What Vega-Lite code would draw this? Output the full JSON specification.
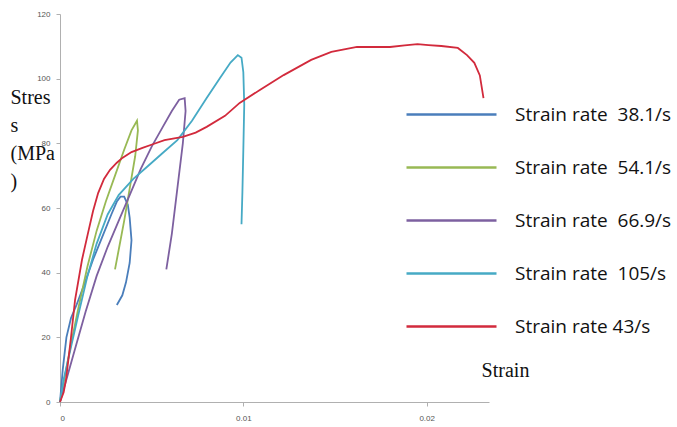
{
  "$schema": "https://vega.github.io/schema/vega-lite/v6.json",
  "autosize": "none",
  "width": 429,
  "height": 388,
  "padding": {"left": 60, "top": 14, "right": 188, "bottom": 25},
  "background": "white",
  "config": {"view": {"stroke": null}},
  "data": {"values": [
    {"s":"Strain rate\u00a0 38.1/s","i":0,"x":0,"y":0},
    {"s":"Strain rate\u00a0 38.1/s","i":1,"x":0.00015,"y":10},
    {"s":"Strain rate\u00a0 38.1/s","i":2,"x":0.00035,"y":20},
    {"s":"Strain rate\u00a0 38.1/s","i":3,"x":0.0006,"y":26},
    {"s":"Strain rate\u00a0 38.1/s","i":4,"x":0.0009,"y":30},
    {"s":"Strain rate\u00a0 38.1/s","i":5,"x":0.0013,"y":36},
    {"s":"Strain rate\u00a0 38.1/s","i":6,"x":0.0018,"y":44},
    {"s":"Strain rate\u00a0 38.1/s","i":7,"x":0.0023,"y":51},
    {"s":"Strain rate\u00a0 38.1/s","i":8,"x":0.0028,"y":58},
    {"s":"Strain rate\u00a0 38.1/s","i":9,"x":0.0031,"y":62},
    {"s":"Strain rate\u00a0 38.1/s","i":10,"x":0.0033,"y":63.5},
    {"s":"Strain rate\u00a0 38.1/s","i":11,"x":0.0035,"y":63.5},
    {"s":"Strain rate\u00a0 38.1/s","i":12,"x":0.0037,"y":61},
    {"s":"Strain rate\u00a0 38.1/s","i":13,"x":0.0038,"y":57},
    {"s":"Strain rate\u00a0 38.1/s","i":14,"x":0.0039,"y":50},
    {"s":"Strain rate\u00a0 38.1/s","i":15,"x":0.0038,"y":43},
    {"s":"Strain rate\u00a0 38.1/s","i":16,"x":0.0036,"y":37},
    {"s":"Strain rate\u00a0 38.1/s","i":17,"x":0.0034,"y":33},
    {"s":"Strain rate\u00a0 38.1/s","i":18,"x":0.0031,"y":30},
    {"s":"Strain rate\u00a0 54.1/s","i":0,"x":0,"y":0},
    {"s":"Strain rate\u00a0 54.1/s","i":1,"x":0.0003,"y":9},
    {"s":"Strain rate\u00a0 54.1/s","i":2,"x":0.0006,"y":18},
    {"s":"Strain rate\u00a0 54.1/s","i":3,"x":0.001,"y":29},
    {"s":"Strain rate\u00a0 54.1/s","i":4,"x":0.0015,"y":42},
    {"s":"Strain rate\u00a0 54.1/s","i":5,"x":0.002,"y":53},
    {"s":"Strain rate\u00a0 54.1/s","i":6,"x":0.0025,"y":62},
    {"s":"Strain rate\u00a0 54.1/s","i":7,"x":0.003,"y":70},
    {"s":"Strain rate\u00a0 54.1/s","i":8,"x":0.0035,"y":78},
    {"s":"Strain rate\u00a0 54.1/s","i":9,"x":0.0039,"y":84},
    {"s":"Strain rate\u00a0 54.1/s","i":10,"x":0.0042,"y":87},
    {"s":"Strain rate\u00a0 54.1/s","i":11,"x":0.00425,"y":84},
    {"s":"Strain rate\u00a0 54.1/s","i":12,"x":0.0041,"y":76},
    {"s":"Strain rate\u00a0 54.1/s","i":13,"x":0.0038,"y":66},
    {"s":"Strain rate\u00a0 54.1/s","i":14,"x":0.0035,"y":56},
    {"s":"Strain rate\u00a0 54.1/s","i":15,"x":0.0032,"y":47},
    {"s":"Strain rate\u00a0 54.1/s","i":16,"x":0.003,"y":41},
    {"s":"Strain rate\u00a0 66.9/s","i":0,"x":0,"y":0},
    {"s":"Strain rate\u00a0 66.9/s","i":1,"x":0.0004,"y":8},
    {"s":"Strain rate\u00a0 66.9/s","i":2,"x":0.0009,"y":18},
    {"s":"Strain rate\u00a0 66.9/s","i":3,"x":0.0014,"y":28},
    {"s":"Strain rate\u00a0 66.9/s","i":4,"x":0.002,"y":39},
    {"s":"Strain rate\u00a0 66.9/s","i":5,"x":0.0026,"y":48},
    {"s":"Strain rate\u00a0 66.9/s","i":6,"x":0.0032,"y":56},
    {"s":"Strain rate\u00a0 66.9/s","i":7,"x":0.0038,"y":64},
    {"s":"Strain rate\u00a0 66.9/s","i":8,"x":0.0044,"y":72},
    {"s":"Strain rate\u00a0 66.9/s","i":9,"x":0.005,"y":79},
    {"s":"Strain rate\u00a0 66.9/s","i":10,"x":0.0056,"y":85},
    {"s":"Strain rate\u00a0 66.9/s","i":11,"x":0.0061,"y":90},
    {"s":"Strain rate\u00a0 66.9/s","i":12,"x":0.0065,"y":93.5},
    {"s":"Strain rate\u00a0 66.9/s","i":13,"x":0.0068,"y":94},
    {"s":"Strain rate\u00a0 66.9/s","i":14,"x":0.00685,"y":90},
    {"s":"Strain rate\u00a0 66.9/s","i":15,"x":0.0067,"y":80},
    {"s":"Strain rate\u00a0 66.9/s","i":16,"x":0.0064,"y":66},
    {"s":"Strain rate\u00a0 66.9/s","i":17,"x":0.0061,"y":52},
    {"s":"Strain rate\u00a0 66.9/s","i":18,"x":0.0058,"y":41},
    {"s":"Strain rate\u00a0 105/s","i":0,"x":0,"y":0},
    {"s":"Strain rate\u00a0 105/s","i":1,"x":0.0002,"y":7},
    {"s":"Strain rate\u00a0 105/s","i":2,"x":0.0006,"y":17},
    {"s":"Strain rate\u00a0 105/s","i":3,"x":0.001,"y":27},
    {"s":"Strain rate\u00a0 105/s","i":4,"x":0.0015,"y":39},
    {"s":"Strain rate\u00a0 105/s","i":5,"x":0.002,"y":49},
    {"s":"Strain rate\u00a0 105/s","i":6,"x":0.0026,"y":58},
    {"s":"Strain rate\u00a0 105/s","i":7,"x":0.0032,"y":64},
    {"s":"Strain rate\u00a0 105/s","i":8,"x":0.004,"y":69},
    {"s":"Strain rate\u00a0 105/s","i":9,"x":0.0048,"y":73},
    {"s":"Strain rate\u00a0 105/s","i":10,"x":0.0056,"y":77},
    {"s":"Strain rate\u00a0 105/s","i":11,"x":0.0064,"y":81},
    {"s":"Strain rate\u00a0 105/s","i":12,"x":0.0072,"y":87},
    {"s":"Strain rate\u00a0 105/s","i":13,"x":0.008,"y":94},
    {"s":"Strain rate\u00a0 105/s","i":14,"x":0.0087,"y":100},
    {"s":"Strain rate\u00a0 105/s","i":15,"x":0.0093,"y":105},
    {"s":"Strain rate\u00a0 105/s","i":16,"x":0.0097,"y":107.3},
    {"s":"Strain rate\u00a0 105/s","i":17,"x":0.0099,"y":106.5},
    {"s":"Strain rate\u00a0 105/s","i":18,"x":0.01,"y":102},
    {"s":"Strain rate\u00a0 105/s","i":19,"x":0.01005,"y":92},
    {"s":"Strain rate\u00a0 105/s","i":20,"x":0.01,"y":78},
    {"s":"Strain rate\u00a0 105/s","i":21,"x":0.00995,"y":65},
    {"s":"Strain rate\u00a0 105/s","i":22,"x":0.0099,"y":55},
    {"s":"Strain rate 43/s","i":0,"x":0,"y":0},
    {"s":"Strain rate 43/s","i":1,"x":0.0002,"y":3},
    {"s":"Strain rate 43/s","i":2,"x":0.00033,"y":7},
    {"s":"Strain rate 43/s","i":3,"x":0.0006,"y":20},
    {"s":"Strain rate 43/s","i":4,"x":0.00082,"y":31.5},
    {"s":"Strain rate 43/s","i":5,"x":0.0012,"y":44},
    {"s":"Strain rate 43/s","i":6,"x":0.00153,"y":52.3},
    {"s":"Strain rate 43/s","i":7,"x":0.0018,"y":59},
    {"s":"Strain rate 43/s","i":8,"x":0.00208,"y":64.6},
    {"s":"Strain rate 43/s","i":9,"x":0.0024,"y":69},
    {"s":"Strain rate 43/s","i":10,"x":0.00273,"y":71.8},
    {"s":"Strain rate 43/s","i":11,"x":0.0031,"y":74},
    {"s":"Strain rate 43/s","i":12,"x":0.0034,"y":75.5},
    {"s":"Strain rate 43/s","i":13,"x":0.0039,"y":77.3},
    {"s":"Strain rate 43/s","i":14,"x":0.0045,"y":78.6},
    {"s":"Strain rate 43/s","i":15,"x":0.0051,"y":79.8},
    {"s":"Strain rate 43/s","i":16,"x":0.0057,"y":81},
    {"s":"Strain rate 43/s","i":17,"x":0.0067,"y":82},
    {"s":"Strain rate 43/s","i":18,"x":0.0074,"y":83.3},
    {"s":"Strain rate 43/s","i":19,"x":0.008,"y":85.1},
    {"s":"Strain rate 43/s","i":20,"x":0.009,"y":88.5},
    {"s":"Strain rate 43/s","i":21,"x":0.0098,"y":92.5},
    {"s":"Strain rate 43/s","i":22,"x":0.0109,"y":96.5},
    {"s":"Strain rate 43/s","i":23,"x":0.0122,"y":101.1},
    {"s":"Strain rate 43/s","i":24,"x":0.0137,"y":105.8},
    {"s":"Strain rate 43/s","i":25,"x":0.0148,"y":108.3},
    {"s":"Strain rate 43/s","i":26,"x":0.0162,"y":109.8},
    {"s":"Strain rate 43/s","i":27,"x":0.018,"y":109.8},
    {"s":"Strain rate 43/s","i":28,"x":0.0188,"y":110.3},
    {"s":"Strain rate 43/s","i":29,"x":0.0195,"y":110.7},
    {"s":"Strain rate 43/s","i":30,"x":0.0201,"y":110.4},
    {"s":"Strain rate 43/s","i":31,"x":0.0208,"y":110.1},
    {"s":"Strain rate 43/s","i":32,"x":0.0217,"y":109.5},
    {"s":"Strain rate 43/s","i":33,"x":0.0222,"y":107.3},
    {"s":"Strain rate 43/s","i":34,"x":0.0226,"y":104.9},
    {"s":"Strain rate 43/s","i":35,"x":0.0229,"y":101},
    {"s":"Strain rate 43/s","i":36,"x":0.0231,"y":94}
  ]},
  "mark": {"type": "line", "strokeWidth": 1.8, "interpolate": "linear"},
  "encoding": {
    "x": {
      "field": "x", "type": "quantitative",
      "scale": {"domain": [0, 0.0234], "nice": false, "zero": true},
      "axis": {
        "values": [0, 0.01, 0.02], "format": "~g", "grid": false,
        "domainColor": "#b0b0b0", "tickColor": "#b0b0b0", "tickSize": 4,
        "labelColor": "#555555", "labelFontSize": 8, "labelFont": "Liberation Sans", "labelPadding": 8,
        "title": "Strain", "titleFont": "Liberation Serif", "titleFontSize": 20, "titleFontWeight": "normal",
        "titleColor": "#111111", "titleX": 445, "titleY": -32, "titleAlign": "center", "titleBaseline": "middle"
      }
    },
    "y": {
      "field": "y", "type": "quantitative",
      "scale": {"domain": [0, 120], "nice": false},
      "axis": {
        "values": [0, 20, 40, 60, 80, 100, 120], "grid": false,
        "domainColor": "#b0b0b0", "tickColor": "#b0b0b0", "tickSize": 4,
        "labelColor": "#555555", "labelFontSize": 8, "labelFont": "Liberation Sans", "labelPadding": 6,
        "title": ["Stres", "s", "(MPa", ")"], "titleFont": "Liberation Serif", "titleFontSize": 20,
        "titleFontWeight": "normal", "titleColor": "#111111", "titleAngle": 0, "titleAlign": "left",
        "titleBaseline": "top", "titleLineHeight": 28, "titleX": -50, "titleY": 73
      }
    },
    "color": {
      "field": "s", "type": "nominal",
      "scale": {
        "domain": ["Strain rate\u00a0 38.1/s", "Strain rate\u00a0 54.1/s", "Strain rate\u00a0 66.9/s", "Strain rate\u00a0 105/s", "Strain rate 43/s"],
        "range": ["#4a7ebb", "#98b954", "#7d60a0", "#46aac5", "#d22a3c"]
      },
      "legend": {
        "title": null, "orient": "none", "legendX": 375, "legendY": 84,
        "symbolType": "M-3,0H3", "symbolSize": 900, "symbolStrokeWidth": 2.5,
        "labelFont": "Open Sans", "labelFontSize": 19, "labelColor": "#111111",
        "labelOffset": 47, "rowPadding": 26, "labelLimit": 300
      }
    },
    "order": {"field": "i", "type": "quantitative"}
  }
}
